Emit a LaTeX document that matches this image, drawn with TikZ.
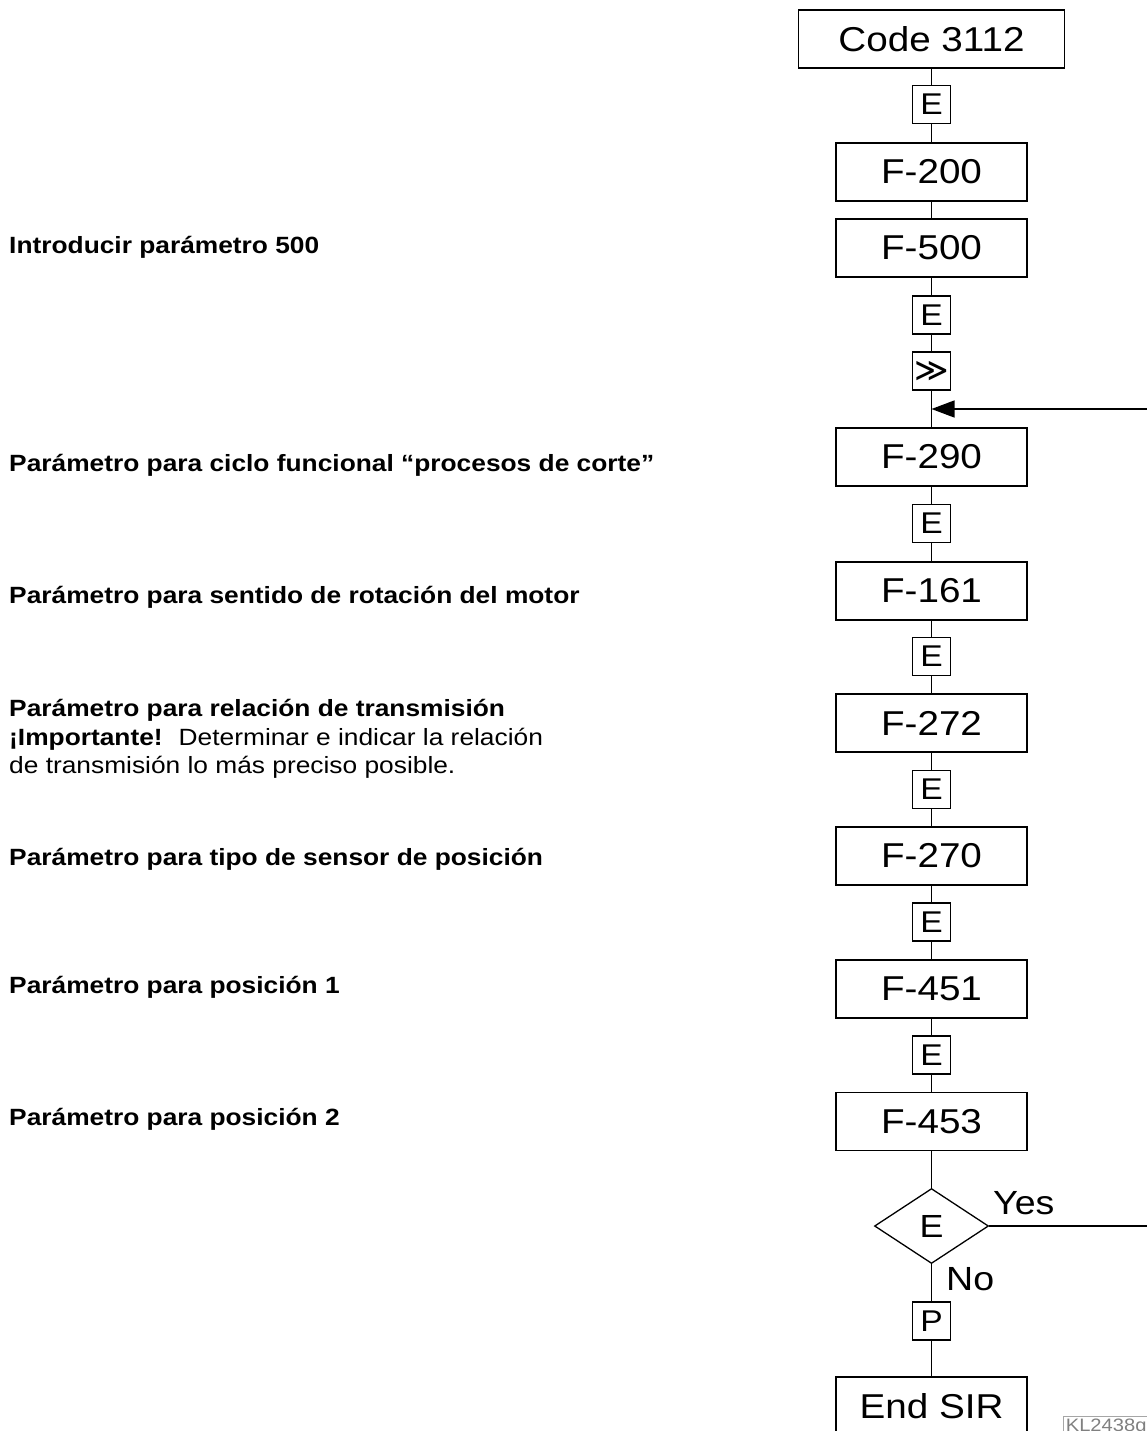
\documentclass[tikz,border=0pt]{standalone}
\usepackage{fontspec}
\setmainfont{Liberation Sans}[FakeStretch=1.12]
\newfontfamily\dejavu{DejaVu Sans}
\usetikzlibrary{shapes.geometric,arrows.meta}
\begin{document}
\begin{tikzpicture}[x=1pt,y=-1pt,
  bigbox/.style={draw, line width=1.6pt, minimum width=191pt, minimum height=58pt, inner sep=0pt, font=\fontsize{34.5}{40}\selectfont},
  keybox/.style={draw, line width=1.3pt, minimum width=38pt, minimum height=38pt, inner sep=0pt, font=\fontsize{30}{34}\selectfont},
  note/.style={anchor=base west, inner sep=0pt, font=\fontsize{23.5}{28.5}\selectfont\bfseries},
  conn/.style={line width=1.4pt},
  lbl/.style={anchor=base west, inner sep=0pt, font=\fontsize{33.5}{38}\selectfont}]
\useasboundingbox (0,0) rectangle (1147,1431);
\clip (0,0) rectangle (1147,1431);

% flow column
\node[bigbox, minimum width=266pt] (code) at (931.5,39) {Code 3112};
\node[keybox] (e1) at (931.5,104.5) {E};
\node[bigbox] (f200) at (931.5,172) {F-200};
\node[bigbox] (f500) at (931.5,248) {F-500};
\node[keybox] (e2) at (931.5,315) {E};
\node[keybox, font=\dejavu\fontsize{33}{36}\selectfont] (ff) at (931.5,371) {≫};
\coordinate (join) at (931.5,409);
\node[bigbox] (f290) at (931.5,457) {F-290};
\node[keybox] (e3) at (931.5,523.5) {E};
\node[bigbox] (f161) at (931.5,591) {F-161};
\node[keybox] (e4) at (931.5,656.5) {E};
\node[bigbox] (f272) at (931.5,723) {F-272};
\node[keybox] (e5) at (931.5,789.5) {E};
\node[bigbox] (f270) at (931.5,856) {F-270};
\node[keybox] (e6) at (931.5,922) {E};
\node[bigbox] (f451) at (931.5,989) {F-451};
\node[keybox] (e7) at (931.5,1055) {E};
\node[bigbox] (f453) at (931.5,1121.5) {F-453};
\node[diamond, draw, line width=1.3pt, minimum width=114pt, minimum height=75pt, inner sep=0pt, font=\fontsize{32}{36}\selectfont] (dec) at (931.5,1226) {E};
\node[keybox] (p) at (931.5,1321) {P};
\node[bigbox] (endsir) at (931.5,1406) {End SIR};

\draw[conn] (code.south) -- (e1.north);
\draw[conn] (e1.south) -- (f200.north);
\draw[conn] (f200.south) -- (f500.north);
\draw[conn] (f500.south) -- (e2.north);
\draw[conn] (e2.south) -- (ff.north);
\draw[conn] (ff.south) -- (f290.north);
\draw[conn] (f290.south) -- (e3.north);
\draw[conn] (e3.south) -- (f161.north);
\draw[conn] (f161.south) -- (e4.north);
\draw[conn] (e4.south) -- (f272.north);
\draw[conn] (f272.south) -- (e5.north);
\draw[conn] (e5.south) -- (f270.north);
\draw[conn] (f270.south) -- (e6.north);
\draw[conn] (e6.south) -- (f451.north);
\draw[conn] (f451.south) -- (e7.north);
\draw[conn] (e7.south) -- (f453.north);
\draw[conn] (f453.south) -- (dec.north);
\draw[conn] (dec.south) -- (p.north);
\draw[conn] (p.south) -- (endsir.north);

% loop back
\coordinate (yesout) at (1147,1226);
\coordinate (loopin) at (1147,409);
\draw[conn] (dec.east) -- (yesout);
\draw[conn, -{Triangle[length=23pt,width=17pt]}] (loopin) -- (join);

\node[lbl] (yes) at (993,1214) {Yes};
\node[lbl] (no) at (946,1290) {No};

% figure tag
\node[draw=gray!70, line width=0.6pt, text=gray, anchor=north west, inner sep=2.5pt, font=\fontsize{18}{21}\selectfont] (kl) at (1063,1416) {KL2438g};

% notes
\node[note] (n1) at (9,254) {Introducir parámetro 500};
\node[note] (n2) at (9,471) {Parámetro para ciclo funcional “procesos de corte”};
\node[note] (n3) at (9,603) {Parámetro para sentido de rotación del motor};
\node[note] (n4a) at (9,716) {Parámetro para relación de transmisión};
\node[note] (n4b) at (9,745) {¡Importante!\hspace{16pt}{\mdseries Determinar e indicar la relación}};
\node[note] (n4c) at (9,773.5) {\mdseries de transmisión lo más preciso posible.};
\node[note] (n5) at (9,865) {Parámetro para tipo de sensor de posición};
\node[note] (n6) at (9,993) {Parámetro para posición 1};
\node[note] (n7) at (9,1125) {Parámetro para posición 2};
\end{tikzpicture}
\end{document}
